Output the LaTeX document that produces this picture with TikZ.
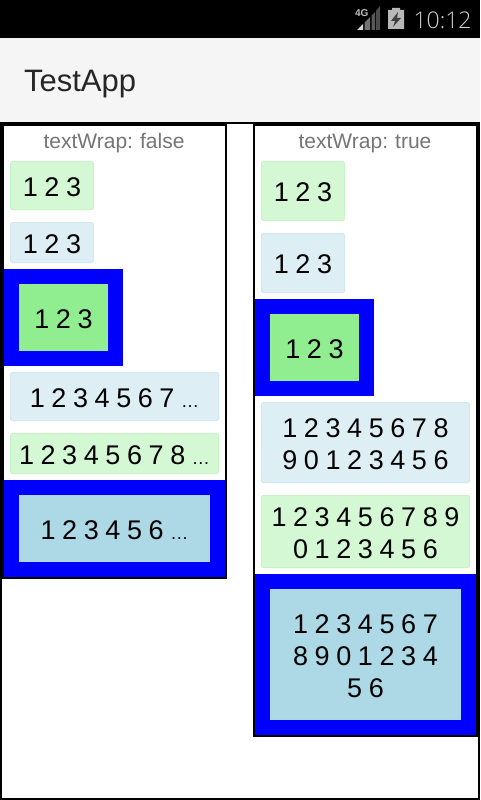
\documentclass[tikz,border=0pt]{standalone}
\usepackage{fontspec}
\setmainfont[WordSpace=0.88]{Liberation Sans}
\newfontfamily\lightfont{Open Sans Light}
\definecolor{palegreenbg}{HTML}{D4F8D4}
\definecolor{palegreenln}{HTML}{C6F4C6}
\definecolor{palebluebg}{HTML}{DEEEF5}
\definecolor{palebluelin}{HTML}{D2E7F0}
\definecolor{strongblue}{HTML}{0000FF}
\definecolor{lgreen}{HTML}{90EE90}
\definecolor{lblue}{HTML}{ADD8E6}
\definecolor{barbg}{HTML}{F5F5F5}
\definecolor{titlegray}{HTML}{757575}
\newcommand{\trunc}{{\fontsize{18}{18}\selectfont …}}
\tikzset{
  x=1pt,y=-1pt,
  every node/.style={inner sep=0pt,outer sep=0pt},
  nums/.style={font=\fontsize{27}{32}\selectfont,text=black,align=center,yshift=-1.5pt},
  paleg/.style={fill=palegreenbg,draw=palegreenln,line width=1pt,rounded corners=1.5pt},
  paleb/.style={fill=palebluebg,draw=palebluelin,line width=1pt,rounded corners=1.5pt},
  solidg/.style={fill=lgreen},
  solidb/.style={fill=lblue},
  frameb/.style={fill=strongblue},
  panel/.style={fill=white,draw=black,line width=2pt},
  heading/.style={font=\fontsize{21}{24}\selectfont,text=titlegray},
}
% \bx{name}{style}{x0}{y0}{x1}{y1}{text}
\newcommand{\bx}[7]{%
  \pgfmathsetmacro{\bxw}{#5-#3}\pgfmathsetmacro{\bxh}{#6-#4}%
  \pgfmathsetmacro{\bxcx}{(#3+#5)/2}\pgfmathsetmacro{\bxcy}{(#4+#6)/2}%
  \node[#2,anchor=center,minimum width=\bxw pt,minimum height=\bxh pt,label={[nums]center:{#7}}] (#1) at (\bxcx,\bxcy) {};}
\newcommand{\fr}[6]{%
  \pgfmathsetmacro{\bxw}{#5-#3}\pgfmathsetmacro{\bxh}{#6-#4}%
  \pgfmathsetmacro{\bxcx}{(#3+#5)/2}\pgfmathsetmacro{\bxcy}{(#4+#6)/2}%
  \node[#2,anchor=center,minimum width=\bxw pt,minimum height=\bxh pt] (#1) at (\bxcx,\bxcy) {};}
\begin{document}
\begin{tikzpicture}
\useasboundingbox (0,0) rectangle (480,800);
\fill[white] (0,0) rectangle (480,800);
\fill[black] (0,0) rectangle (480,38);
\fill[barbg] (0,38) rectangle (480,122);
\node[anchor=base west,font=\fontsize{31}{34}\selectfont,text=black!85] (apptitle) at (24,91) {TestApp};
% status bar
\node[anchor=base east,font=\lightfont\fontsize{23}{28}\selectfont,text=white!82!black] (clock) at (471.5,29) {10:12};
\node[anchor=base west,font=\bfseries\fontsize{10}{12}\selectfont,text=white!75!black] (net) at (355,17) {4G};
\fill[white!85!black] (357,30) -- (363,24) -- (363,30) -- cycle;
\fill[white!45!black] (364.5,22.5) -- (370,17) -- (370,30) -- (364.5,30) -- cycle;
\fill[white!35!black] (371.5,15.5) -- (375,12) -- (375,30) -- (371.5,30) -- cycle;
\fill[white!30!black] (376,11) -- (380,6) -- (380,30) -- (376,30) -- cycle;
\fill[white!72!black] (388,10) -- (392,10) -- (392,8) -- (400,8) -- (400,10) -- (404,10) -- (404,29) -- (388,29) -- cycle;
\fill[white!25!black] (398,12) -- (391,21) -- (395,21) -- (393,27) -- (401,18) -- (397,18) -- cycle;
% outer frame
\draw[black,line width=2pt] (1,123) rectangle (479,799);
% left panel
\draw[panel] (3,125) rectangle (226,578);
\node[heading] (ltitle) at (114,143) {textWrap: false};
\bx{la}{paleg}{10.5}{161.5}{93.5}{209.5}{1 2 3}
\bx{lb}{paleb}{10.5}{222.5}{93.5}{262.5}{1 2 3}
\fr{lcf}{frameb}{4}{269}{123}{366}
\bx{lc}{solidg}{19}{284}{108}{351}{1 2 3}
\bx{ld}{paleb}{10.5}{372.5}{218.5}{420.5}{1 2 3 4 5 6 7 \trunc}
\bx{le}{paleg}{10.5}{433.5}{218.5}{473.5}{1 2 3 4 5 6 7 8 \trunc}
\fr{lff}{frameb}{4}{480}{225}{577}
\bx{lf}{solidb}{19}{495}{210}{562}{1 2 3 4 5 6 \trunc}
% right panel
\draw[panel] (254,125) rectangle (477,736);
\node[heading] (rtitle) at (365,143) {textWrap: true};
\bx{ra}{paleg}{261.5}{161.5}{344.5}{220.5}{1 2 3}
\bx{rb}{paleb}{261.5}{233.5}{344.5}{292.5}{1 2 3}
\fr{rcf}{frameb}{255}{299}{374}{396}
\bx{rc}{solidg}{270}{314}{359}{381}{1 2 3}
\bx{rd}{paleb}{261.5}{402.5}{469.5}{482.5}{1 2 3 4 5 6 7 8\\9 0 1 2 3 4 5 6}
\bx{re}{paleg}{261.5}{495.5}{469.5}{567.5}{1 2 3 4 5 6 7 8 9\\0 1 2 3 4 5 6}
\fr{rff}{frameb}{255}{574}{476}{735}
\bx{rf}{solidb}{270}{589}{461}{720}{1 2 3 4 5 6 7\\8 9 0 1 2 3 4\\5 6}
\end{tikzpicture}
\end{document}
